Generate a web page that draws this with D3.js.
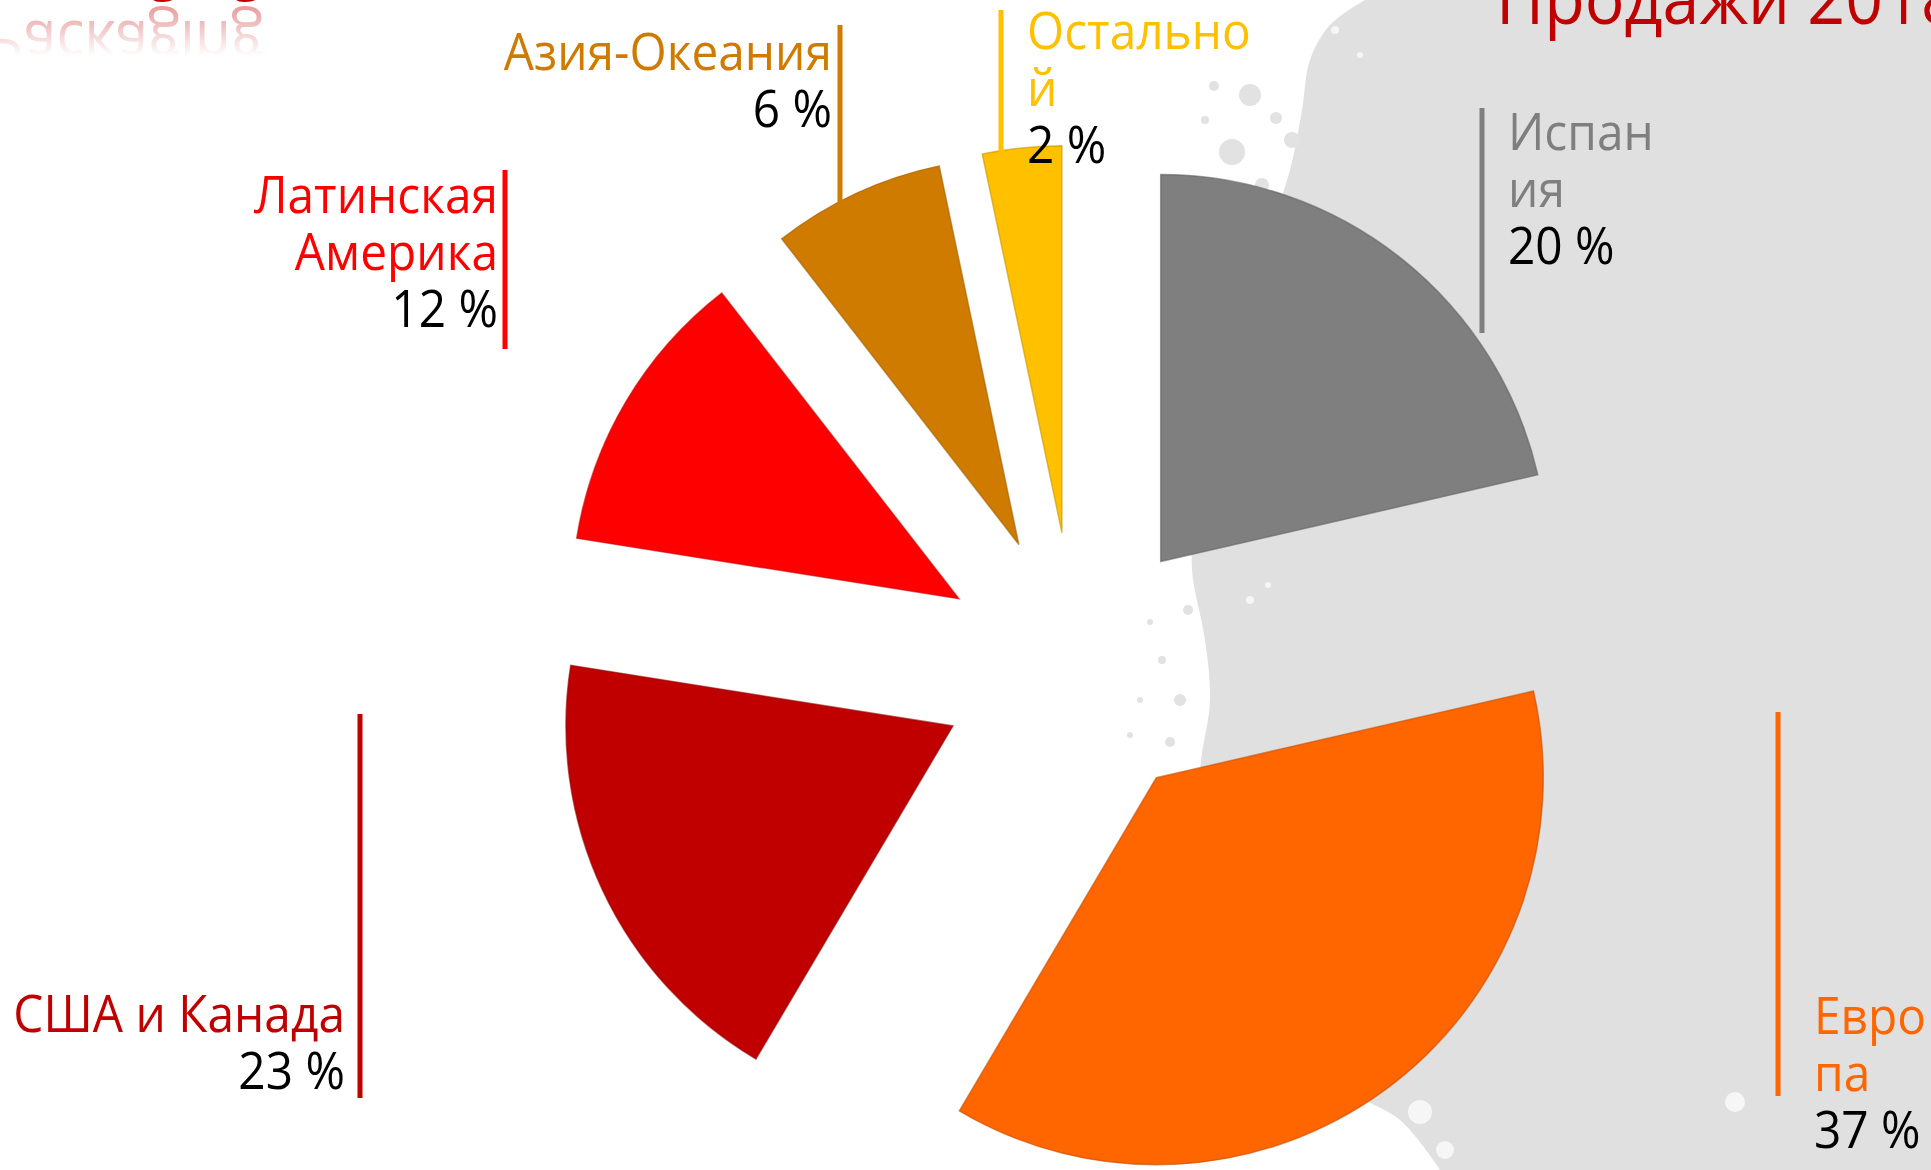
<!DOCTYPE html>
<html>
<head>
<meta charset="utf-8">
<script src="https://cdn.jsdelivr.net/npm/d3@7"></script>
<style>
  body { margin: 0; background: #ffffff; overflow: hidden; }
  svg { display: block; }
  text { font-family: "Open Sans", "Noto Sans", sans-serif; }
</style>
</head>
<body>
<div id="chart"></div>
<script>
//
// Exploded pie: sales by region 2018
//

// data
var categories = ["Испания", "Европа", "США и Канада", "Латинская Америка", "Азия-Океания", "Остальной"];
var shares = [21.4, 37.1, 19.0, 12.0, 7.2, 3.3];          // slice sizes as they are drawn
var pctLabels = ["20 %", "37 %", "23 %", "12 %", "6 %", "2 %"]; // printed data labels
var sliceColors = ["#7f7f7f", "#ff6600", "#c00000", "#ff0000", "#cf7b00", "#ffc000"];
var titleText = "Продажи 2018";
var mirroredTitle = "Packaging";

var width = 1931;
var height = 1170;

// label boxes (placed by hand on the slide)
var labelLayout = [
    { x: 1508, y: 150, anchor: "start", breaks: [5], barX: 1482, barY: [108, 333] },
    { x: 1814, y: 1034, anchor: "start", breaks: [4], barX: 1778, barY: [712, 1096] },
    { x: 345, y: 1032, anchor: "end", breaks: [], barX: 360, barY: [714, 1098] },
    { x: 498, y: 213, anchor: "end", breaks: [9], barX: 505, barY: [170, 349] },
    { x: 832, y: 70, anchor: "end", breaks: [], barX: 840, barY: [25, 203] },
    { x: 1027, y: 49, anchor: "start", breaks: [8], barX: 1001, barY: [10, 154] }
];

// grey paint area on the right side of the slide
var paintEdge = [[1365, 0], [1330, 25], [1310, 60], [1302, 110], [1290, 170], [1260, 260], [1220, 400],
    [1195, 520], [1192, 570], [1205, 640], [1210, 700], [1200, 780], [1220, 900], [1280, 1000],
    [1330, 1080], [1400, 1120], [1440, 1170]];
var paintDrops = [[1250, 95, 11], [1292, 140, 8], [1232, 152, 13], [1276, 118, 6], [1214, 86, 5],
    [1262, 185, 7], [1205, 120, 4], [1180, 700, 6], [1162, 660, 4], [1170, 742, 5], [1150, 622, 3],
    [1140, 700, 3], [1188, 610, 5], [1130, 735, 3]];
var whiteDrops = [[1420, 1112, 12], [1445, 1150, 9], [1735, 1102, 10], [1335, 30, 4], [1360, 55, 3],
    [1250, 600, 4], [1268, 585, 3]];

var fontSize = 52;
var lineHeight = 57;
var squeeze = 0.92;

var svg = d3.select("#chart")
    .append("svg")
    .attr("width", width)
    .attr("height", height);

var defs = svg.append("defs");

// background
svg.append("rect").attr("width", width).attr("height", height).attr("fill", "#ffffff");

var edgeLine = d3.line().curve(d3.curveCatmullRom);
svg.append("path")
    .attr("d", edgeLine(paintEdge) + "L" + width + "," + height + "L" + width + ",0Z")
    .attr("fill", "#e0e0e0");

svg.selectAll(".drop")
    .data(paintDrops)
    .enter().append("circle")
    .attr("class", "drop")
    .attr("cx", function (d) { return d[0]; })
    .attr("cy", function (d) { return d[1]; })
    .attr("r", function (d) { return d[2]; })
    .attr("fill", "#e2e2e2");

svg.selectAll(".wdrop")
    .data(whiteDrops)
    .enter().append("circle")
    .attr("class", "wdrop")
    .attr("cx", function (d) { return d[0]; })
    .attr("cy", function (d) { return d[1]; })
    .attr("r", function (d) { return d[2]; })
    .attr("fill", "#f6f6f6");

// title cut at the top, with its reflection (top-left)
var fade = defs.append("linearGradient")
    .attr("id", "fade")
    .attr("gradientUnits", "userSpaceOnUse")
    .attr("x1", 0).attr("y1", 5).attr("x2", 0).attr("y2", 56);
fade.append("stop").attr("offset", 0).attr("stop-color", "#fff").attr("stop-opacity", 0.4);
fade.append("stop").attr("offset", 1).attr("stop-color", "#fff").attr("stop-opacity", 0);
defs.append("mask").attr("id", "fadeMask")
    .append("rect").attr("x", 0).attr("y", 0).attr("width", 500).attr("height", 120)
    .attr("fill", "url(#fade)");

var mirrorBase = -13;
var mirrorAxis = 4;
svg.append("g")
    .attr("transform", "translate(-12," + mirrorBase + ") scale(" + squeeze + ",1)")
    .append("text")
    .attr("font-size", 64)
    .attr("fill", "#c00000")
    .text(mirroredTitle);

svg.append("g")
    .attr("mask", "url(#fadeMask)")
    .append("g")
    .attr("transform", "translate(-12," + (2 * mirrorAxis - mirrorBase) + ") scale(" + squeeze + ",-1)")
    .append("text")
    .attr("font-size", 64)
    .attr("fill", "#c00000")
    .text(mirroredTitle);

svg.append("g")
    .attr("transform", "translate(1496,24) scale(" + squeeze + ",1)")
    .append("text")
    .attr("font-size", 72)
    .attr("fill", "#c00000")
    .text(titleText);

// pie
var cx = 1076;
var cy = 668;
var radius = 387;
var explode = 136;

var data = categories.map(function (c, i) {
    return { name: c, value: shares[i], pct: pctLabels[i], color: sliceColors[i], layout: labelLayout[i] };
});

var pie = d3.pie()
    .sort(null)
    .value(function (d) { return d.value; })
    .startAngle(0)
    .endAngle(2 * Math.PI);

var arc = d3.arc().innerRadius(0).outerRadius(radius);

svg.append("g")
    .selectAll("path")
    .data(pie(data))
    .enter().append("path")
    .attr("d", arc)
    .attr("transform", function (d) {
        var a = (d.startAngle + d.endAngle) / 2;
        return "translate(" + (cx + explode * Math.sin(a)) + "," + (cy - explode * Math.cos(a)) + ")";
    })
    .attr("fill", function (d) { return d.data.color; })
    .attr("stroke", function (d) { return d3.color(d.data.color).darker(0.7); })
    .attr("stroke-width", 1.5)
    .attr("stroke-opacity", 0.6);

// labels: a coloured bar next to a text box
function splitName(name, breaks) {
    var out = [];
    var from = 0;
    breaks.forEach(function (b) {
        out.push(name.slice(from, b).trim());
        from = b;
    });
    out.push(name.slice(from).trim());
    return out;
}

var labels = svg.append("g")
    .selectAll("g")
    .data(data)
    .enter().append("g");

labels.append("line")
    .attr("x1", function (d) { return d.layout.barX; })
    .attr("x2", function (d) { return d.layout.barX; })
    .attr("y1", function (d) { return d.layout.barY[0]; })
    .attr("y2", function (d) { return d.layout.barY[1]; })
    .attr("stroke", function (d) { return d.color; })
    .attr("stroke-width", 5);

labels.each(function (d) {
    var g = d3.select(this).append("g")
        .attr("transform", "translate(" + d.layout.x + "," + d.layout.y + ") scale(" + squeeze + ",1)");
    var lines = splitName(d.name, d.layout.breaks);
    var text = g.append("text")
        .attr("font-size", fontSize)
        .style("text-anchor", d.layout.anchor);
    lines.forEach(function (ln, i) {
        text.append("tspan")
            .attr("x", 0)
            .attr("y", i * lineHeight)
            .attr("fill", d.color)
            .text(ln);
    });
    text.append("tspan")
        .attr("x", 0)
        .attr("y", lines.length * lineHeight)
        .attr("fill", "#000000")
        .text(d.pct);
});
</script>
</body>
</html>
